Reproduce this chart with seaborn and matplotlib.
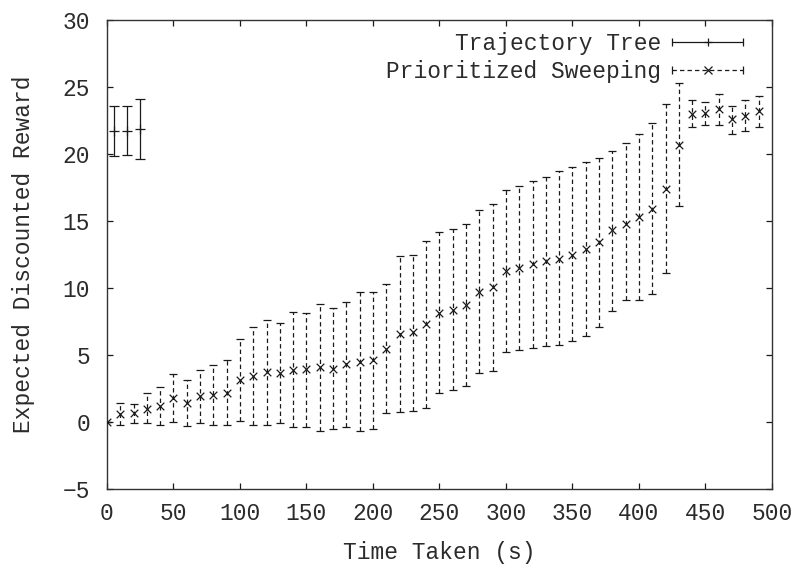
import numpy as np
import pandas as pd
import seaborn as sns
import matplotlib.pyplot as plt
from matplotlib.lines import Line2D
from matplotlib.legend_handler import HandlerBase

# Trajectory Tree results
tt_time = [5, 15, 25]
tt_reward = [21.7, 21.75, 21.85]
tt_low = [19.85, 19.95, 19.6]
tt_high = [23.6, 23.6, 24.1]

# Prioritized Sweeping results
ps_time = list(range(0, 500, 10))
ps_reward = [0.0, 0.62, 0.7, 1.0, 1.2, 1.77, 1.4, 1.94, 2.0, 2.2,
             3.1, 3.43, 3.7, 3.63, 3.9, 3.93, 4.08, 3.98, 4.3, 4.5,
             4.63, 5.45, 6.57, 6.7, 7.3, 8.1, 8.36, 8.7, 9.72, 10.05,
             11.25, 11.5, 11.8, 12.0, 12.2, 12.5, 12.9, 13.4, 14.3, 14.8,
             15.3, 15.9, 17.4, 20.7, 23.0, 23.04, 23.36, 22.6, 22.8, 23.2]
ps_low = [0.0, -0.2, -0.05, -0.05, -0.22, 0.0, -0.3, -0.1, -0.2, -0.2,
          0.07, -0.2, -0.2, -0.1, -0.35, -0.35, -0.67, -0.52, -0.35, -0.67,
          -0.52, 0.65, 0.77, 0.85, 1.07, 2.14, 2.4, 2.7, 3.63, 3.8,
          5.25, 5.4, 5.55, 5.7, 5.75, 6.07, 6.4, 7.1, 8.3, 9.1,
          9.1, 9.55, 11.1, 16.1, 22.0, 22.2, 22.2, 21.5, 21.7, 22.0]
ps_high = [0.0, 1.44, 1.34, 2.14, 2.63, 3.6, 3.1, 3.9, 4.25, 4.6,
           6.2, 7.1, 7.6, 7.4, 8.2, 8.16, 8.8, 8.5, 8.98, 9.7,
           9.72, 10.3, 12.4, 12.5, 13.5, 14.15, 14.4, 14.8, 15.8, 16.3,
           17.3, 17.6, 18.0, 18.3, 18.7, 19.0, 19.4, 19.7, 20.2, 20.8,
           21.5, 22.3, 23.7, 25.3, 24.0, 23.9, 24.5, 23.6, 24.0, 24.3]

x_ticks = list(range(0, 501, 50))
y_ticks = list(range(-5, 31, 5))

tt = pd.DataFrame({'time': tt_time, 'reward': tt_reward, 'low': tt_low, 'high': tt_high})
ps = pd.DataFrame({'time': ps_time, 'reward': ps_reward, 'low': ps_low, 'high': ps_high})

sns.set_theme(style='ticks')
plt.rcParams['font.family'] = ['Liberation Mono', 'DejaVu Sans Mono']
plt.rcParams['axes.unicode_minus'] = True

ink = '#1a1a1a'
txt = '#2b2b2b'
dash = (0, (3.5, 2.5))
fs = 16.5


# gnuplot style legend sample: line with end caps and a point in the middle
class HandlerGnu(HandlerBase):
    def __init__(self, ls, marker):
        super().__init__()
        self.ls = ls
        self.marker = marker

    def create_artists(self, legend, orig_handle, xdescent, ydescent,
                       width, height, fontsize, trans):
        y = height / 2 - ydescent
        x0, x1 = -xdescent, width - xdescent
        line = Line2D([x0, x1], [y, y], color=ink, lw=0.9, linestyle=self.ls)
        caps = Line2D([x0, x1], [y, y], color=ink, ls='none', marker='|',
                      markersize=6, markeredgewidth=0.9)
        mid = Line2D([(x0 + x1) / 2], [y], color=ink, ls='none',
                     marker=self.marker, markersize=6, markeredgewidth=0.9)
        for a in (line, caps, mid):
            a.set_transform(trans)
        return [line, caps, mid]


fig = plt.figure(figsize=(7.96, 5.66), dpi=100)
ax = fig.add_axes([0.1344, 0.136, 0.8354, 0.8287])

# Trajectory Tree
ax.errorbar(tt['time'], tt['reward'],
            yerr=[tt['reward'] - tt['low'], tt['high'] - tt['reward']],
            fmt='none', ecolor=ink, elinewidth=0.9, capsize=3.5, capthick=0.9)
sns.scatterplot(data=tt, x='time', y='reward', marker='+', s=45,
                color=ink, linewidth=0.9, ax=ax, zorder=3)

# Prioritized Sweeping
ps_err = ax.errorbar(ps['time'], ps['reward'],
                     yerr=[ps['reward'] - ps['low'], ps['high'] - ps['reward']],
                     fmt='none', ecolor=ink, elinewidth=0.9, capsize=3, capthick=0.9)
ps_err.lines[2][0].set_linestyle(dash)
sns.scatterplot(data=ps, x='time', y='reward', marker='x', s=30,
                color=ink, linewidth=0.9, ax=ax, zorder=3)

ax.set_xlim(0, 500)
ax.set_ylim(-5, 30)
ax.set_xticks(x_ticks)
ax.set_yticks(y_ticks)
ax.tick_params(direction='in', length=4.5, width=0.9, top=True, right=True,
               labelsize=fs, colors=ink, labelcolor=txt)
ax.tick_params(axis='y', pad=12)
ax.tick_params(axis='x', pad=9)
for s in ax.spines.values():
    s.set_linewidth(1.0)
    s.set_color('#333333')

ax.set_xlabel('Time Taken (s)', fontsize=fs, color=txt, labelpad=12)
ax.set_ylabel('Expected Discounted Reward', fontsize=fs, color=txt, labelpad=20)

h1 = Line2D([], [])
h2 = Line2D([], [])
leg = ax.legend([h1, h2], ['Trajectory Tree', 'Prioritized Sweeping'],
                handler_map={h1: HandlerGnu('-', '+'), h2: HandlerGnu(dash, 'x')},
                loc='upper right', bbox_to_anchor=(0.957, 0.975), borderaxespad=0,
                borderpad=0, frameon=False, markerfirst=False, fontsize=fs,
                handlelength=3.1, handletextpad=0.5, labelspacing=0.25)
for t in leg.get_texts():
    t.set_color(txt)

plt.savefig('out.png', dpi=100)
